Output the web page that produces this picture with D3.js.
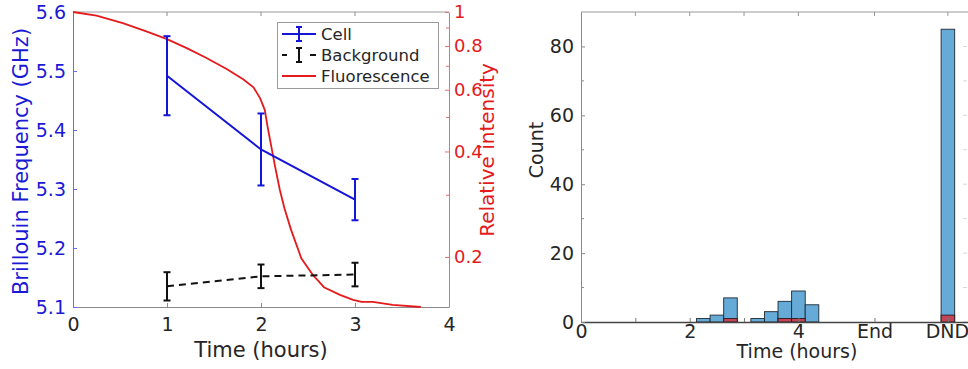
<!DOCTYPE html>
<html>
<head>
<meta charset="utf-8">
<script src="https://cdn.jsdelivr.net/npm/d3@7/dist/d3.min.js"></script>
<style>
  html, body { margin: 0; padding: 0; background: #fff; }
  svg { display: block; font-family: "DejaVu Sans", sans-serif; }
</style>
</head>
<body>
<svg id="chart" width="968" height="369"></svg>
<script>
// ---- Left panel: Brillouin frequency (left axis) and fluorescence (log right axis)
const timePoints = [1, 2, 3];
const cellMean = [5.492, 5.367, 5.282];
const cellErr = [0.067, 0.061, 0.035];
const backgroundMean = [5.135, 5.152, 5.155];
const backgroundErr = [0.024, 0.020, 0.020];

const fluorTime = [0, 0.25, 0.53, 0.78, 1.0, 1.21, 1.42, 1.63, 1.81, 1.92, 1.99, 2.04, 2.07, 2.11, 2.15,
                   2.2, 2.25, 2.32, 2.43, 2.55, 2.67, 2.84, 2.98, 3.07, 3.19, 3.4, 3.7];
const fluorIntensity = [1.0, 0.976, 0.93, 0.881, 0.837, 0.789, 0.739, 0.689, 0.643, 0.61, 0.568, 0.526, 0.471, 0.413, 0.362,
                        0.311, 0.275, 0.239, 0.198, 0.178, 0.164, 0.156, 0.151, 0.149, 0.149, 0.146, 0.144];

const leftXTicks = [0, 1, 2, 3, 4];
const freqTicks = [5.1, 5.2, 5.3, 5.4, 5.5, 5.6];
const intensityTicks = [0.2, 0.4, 0.6, 0.8, 1];
const intensityMinorTicks = [0.3, 0.5, 0.7, 0.9];
const legendLabels = ["Cell", "Background", "Fluorescence"];

// ---- Right panel: histogram of event times
const binCenters = [2.25, 2.5, 2.75, 3.25, 3.5, 3.75, 4.0, 4.25, 6.75];
const allCounts = [1, 2, 7, 1, 3, 6, 9, 5, 85];
const subsetCounts = [0, 0, 1, 0, 0, 1, 1, 0, 2];
const binWidth = 0.25;
const histXTicks = [0, 1, 2, 3, 4, 5.4, 6.75];
const histXLabels = ["0", "", "2", "", "4", "End", "DND"];
const countTicks = [0, 20, 40, 60, 80];
const countMinorTicks = [10, 30, 50, 70];

const svg = d3.select("#chart");
const textDark = "#262626";
const blue = "#1a1ad6";
const red = "#e41a1c";

// ===== Left panel =====
const L = { x0: 73, x1: 449, y0: 12, y1: 307 };
const xL = d3.scaleLinear().domain([0, 4]).range([L.x0, L.x1]);
const yF = d3.scaleLinear().domain([5.1, 5.6]).range([L.y1, L.y0]);
const yI = d3.scaleLog().domain([0.144, 1]).range([L.y1, L.y0]);

const left = svg.append("g");

// frame top edge
left.append("line").attr("x1", L.x0).attr("x2", L.x1).attr("y1", L.y0).attr("y2", L.y0)
  .attr("stroke", "#9a9a9a").attr("stroke-width", 1);

const xAxisL = d3.axisBottom(xL).tickValues(leftXTicks).tickSizeInner(-4).tickSizeOuter(0).tickPadding(11).tickFormat(d3.format("d"));
const gxL = left.append("g").attr("transform", `translate(0,${L.y1})`).call(xAxisL);
gxL.select(".domain").attr("stroke", "#8a8a8a");
gxL.selectAll(".tick line").attr("stroke", "#8a8a8a");
gxL.selectAll("text").attr("fill", textDark).style("font-size", "19px").style("font-family", "DejaVu Sans");

// top ticks
left.append("g").selectAll("line").data(leftXTicks.slice(1, -1)).join("line")
  .attr("x1", d => xL(d)).attr("x2", d => xL(d)).attr("y1", L.y0).attr("y2", L.y0 + 4)
  .attr("stroke", "#8a8a8a");

// left axis (frequency)
const yAxisF = d3.axisLeft(yF).tickValues(freqTicks).tickSizeInner(-4).tickSizeOuter(0).tickPadding(7).tickFormat(d3.format(".1f"));
const gyF = left.append("g").attr("transform", `translate(${L.x0},0)`).call(yAxisF);
gyF.select(".domain").attr("stroke", "#6b6bf0");
gyF.selectAll(".tick line").attr("stroke", "#6b6bf0");
gyF.selectAll("text").attr("fill", blue).style("font-size", "19px").style("font-family", "DejaVu Sans");

// right axis (log intensity)
const yAxisI = d3.axisRight(yI).tickValues(intensityTicks).tickSizeInner(-4).tickSizeOuter(0).tickPadding(5)
  .tickFormat(d => d === 1 ? "1" : d3.format(".1f")(d));
const gyI = left.append("g").attr("transform", `translate(${L.x1},0)`).call(yAxisI);
gyI.select(".domain").attr("stroke", "#f06b6b");
gyI.selectAll(".tick line").attr("stroke", "#f06b6b");
gyI.selectAll("text").attr("fill", red).style("font-size", "18px").style("font-family", "DejaVu Sans");
left.append("g").selectAll("line").data(intensityMinorTicks).join("line")
  .attr("x1", L.x1).attr("x2", L.x1 - 3).attr("y1", d => yI(d)).attr("y2", d => yI(d))
  .attr("stroke", "#f06b6b");

// axis labels
left.append("text").attr("x", (L.x0 + L.x1) / 2).attr("y", 357).attr("text-anchor", "middle")
  .attr("fill", textDark).style("font-size", "21px").text("Time (hours)");
left.append("text").attr("transform", `translate(28,${(L.y0 + L.y1) / 2 + 2}) rotate(-90)`)
  .attr("text-anchor", "middle").attr("fill", blue).style("font-size", "21px").text("Brillouin Frequency (GHz)");
left.append("text").attr("transform", `translate(494,150) rotate(-90)`)
  .attr("text-anchor", "middle").attr("fill", red).style("font-size", "20px").text("Relative intensity");

// fluorescence curve
const fluorLine = d3.line().x((d, i) => xL(fluorTime[i])).y(d => yI(d));
left.append("path").datum(fluorIntensity).attr("d", fluorLine)
  .attr("fill", "none").attr("stroke", red).attr("stroke-width", 1.8);

// error-bar series
function drawSeries(means, errs, color, dash) {
  const g = left.append("g");
  const line = d3.line().x((d, i) => xL(timePoints[i])).y(d => yF(d));
  g.append("path").datum(means).attr("d", line).attr("fill", "none")
    .attr("stroke", color).attr("stroke-width", 2).attr("stroke-dasharray", dash);
  const cap = 3.5;
  means.forEach((m, i) => {
    const x = xL(timePoints[i]);
    g.append("line").attr("x1", x).attr("x2", x).attr("y1", yF(m - errs[i])).attr("y2", yF(m + errs[i]))
      .attr("stroke", color).attr("stroke-width", 2);
    [m - errs[i], m + errs[i]].forEach(v => {
      g.append("line").attr("x1", x - cap).attr("x2", x + cap).attr("y1", yF(v)).attr("y2", yF(v))
        .attr("stroke", color).attr("stroke-width", 2);
    });
  });
}
drawSeries(cellMean, cellErr, "#1515d8", null);
drawSeries(backgroundMean, backgroundErr, "#111", "7,5");

// legend
const lg = left.append("g");
lg.append("rect").attr("x", 277.5).attr("y", 22.5).attr("width", 161).attr("height", 66)
  .attr("fill", "#fff").attr("stroke", "#9a9a9a");
const legendColors = ["#1515d8", "#111", red];
legendLabels.forEach((name, i) => {
  const y = 34 + i * 21;
  const item = lg.append("g");
  if (i === 1) {
    item.append("line").attr("x1", 282).attr("x2", 287).attr("y1", y).attr("y2", y).attr("stroke", "#111").attr("stroke-width", 2);
    item.append("line").attr("x1", 310).attr("x2", 316).attr("y1", y).attr("y2", y).attr("stroke", "#111").attr("stroke-width", 2);
  } else {
    item.append("line").attr("x1", 282).attr("x2", 316).attr("y1", y).attr("y2", y)
      .attr("stroke", legendColors[i]).attr("stroke-width", i === 2 ? 1.8 : 2);
  }
  if (i < 2) {
    const h = 7;
    item.append("line").attr("x1", 299).attr("x2", 299).attr("y1", y - h).attr("y2", y + h).attr("stroke", legendColors[i]).attr("stroke-width", 2);
    [y - h, y + h].forEach(v => item.append("line").attr("x1", 296).attr("x2", 302).attr("y1", v).attr("y2", v).attr("stroke", legendColors[i]).attr("stroke-width", 2));
  }
  item.append("text").attr("x", 321).attr("y", y + 6).attr("fill", textDark)
    .style("font-size", "16.5px").text(name);
});

// ===== Right panel =====
const R = { x0: 581, x1: 968, y0: 12, y1: 322 };
const xR = d3.scaleLinear().domain([0, 7.12]).range([R.x0, R.x1]);
const yR = d3.scaleLinear().domain([0, 90]).range([R.y1, R.y0]);
const right = svg.append("g");

// frame top + faint right-edge ticks
right.append("line").attr("x1", R.x0).attr("x2", R.x1).attr("y1", R.y0).attr("y2", R.y0).attr("stroke", "#9a9a9a");
right.append("g").selectAll("line").data(histXTicks.slice(1)).join("line")
  .attr("x1", d => xR(d)).attr("x2", d => xR(d)).attr("y1", R.y0).attr("y2", R.y0 + 4).attr("stroke", "#9a9a9a");
right.append("g").selectAll("line").data(countTicks.concat(countMinorTicks)).join("line")
  .attr("x1", R.x1 - 1).attr("x2", R.x1 - 5).attr("y1", d => yR(d)).attr("y2", d => yR(d)).attr("stroke", "#d8d8d8");

// bars: all events, then the highlighted subset on top
const barW = xR(binWidth) - xR(0);
const bins = binCenters.map((c, i) => ({ center: c, all: allCounts[i], subset: subsetCounts[i] }));
right.append("g").selectAll("rect").data(bins).join("rect")
  .attr("x", d => xR(d.center - binWidth / 2)).attr("width", barW)
  .attr("y", d => yR(d.all)).attr("height", d => yR(0) - yR(d.all))
  .attr("fill", "#66aad7").attr("stroke", "#1f2a33").attr("stroke-width", 0.9);
right.append("g").selectAll("rect").data(bins.filter(d => d.subset > 0)).join("rect")
  .attr("x", d => xR(d.center - binWidth / 2)).attr("width", barW)
  .attr("y", d => yR(d.subset)).attr("height", d => yR(0) - yR(d.subset))
  .attr("fill", "#c24456").attr("stroke", "#2a1a1e").attr("stroke-width", 0.9);

// x axis
const xAxisR = d3.axisBottom(xR).tickValues(histXTicks).tickSizeInner(-4).tickSizeOuter(0).tickPadding(2)
  .tickFormat((d, i) => histXLabels[i]);
const gxR = right.append("g").attr("transform", `translate(0,${R.y1})`).call(xAxisR);
gxR.select(".domain").attr("stroke", "#444").attr("stroke-width", 1.3);
gxR.selectAll(".tick line").attr("stroke", "#777");
gxR.selectAll("text").attr("fill", textDark).style("font-size", "19px").style("font-family", "DejaVu Sans");
gxR.selectAll(".tick").filter(d => d === 6.75).select("text").attr("dx", "-1");

// y axis
const yAxisR = d3.axisLeft(yR).tickValues(countTicks).tickSizeInner(-4).tickSizeOuter(0).tickPadding(7);
const gyR = right.append("g").attr("transform", `translate(${R.x0},0)`).call(yAxisR);
gyR.select(".domain").attr("stroke", "#8a8a8a");
gyR.selectAll(".tick line").attr("stroke", "#8a8a8a");
gyR.selectAll("text").attr("fill", textDark).style("font-size", "19px").style("font-family", "DejaVu Sans");
right.append("g").selectAll("line").data(countMinorTicks).join("line")
  .attr("x1", R.x0).attr("x2", R.x0 + 3).attr("y1", d => yR(d)).attr("y2", d => yR(d)).attr("stroke", "#8a8a8a");

right.append("text").attr("x", 797).attr("y", 358).attr("text-anchor", "middle")
  .attr("fill", textDark).style("font-size", "19px").text("Time (hours)");
right.append("text").attr("transform", `translate(543,150) rotate(-90)`).attr("text-anchor", "middle")
  .attr("fill", textDark).style("font-size", "19px").text("Count");
</script>
</body>
</html>
